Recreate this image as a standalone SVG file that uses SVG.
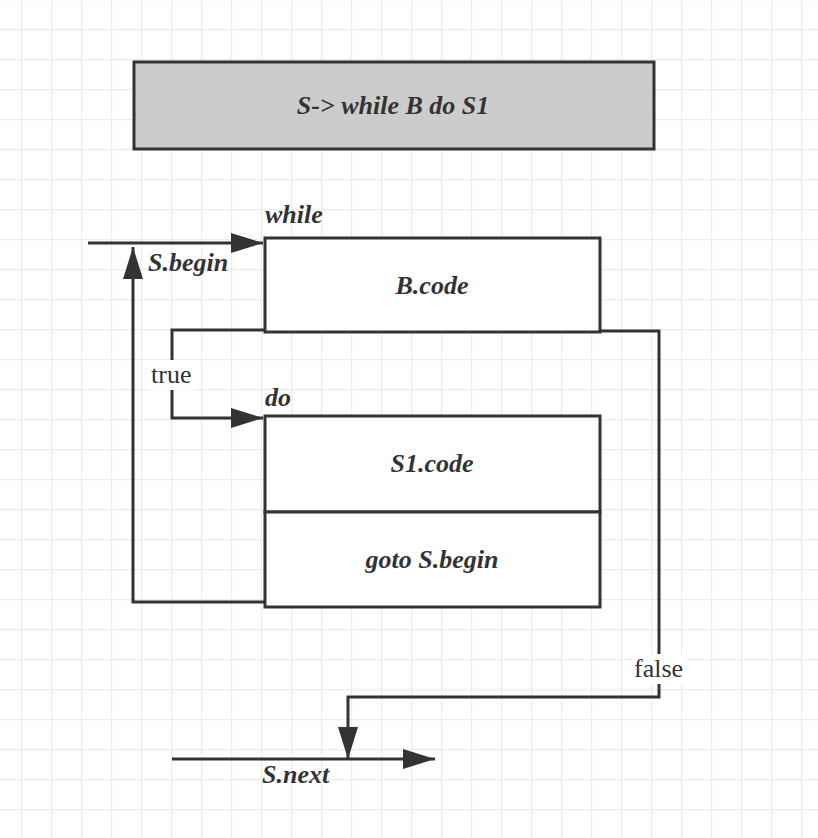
<svg xmlns="http://www.w3.org/2000/svg" width="818" height="838" viewBox="0 0 818 838">
<defs>
<pattern id="grid" x="21" y="29" width="30" height="30" patternUnits="userSpaceOnUse">
<path d="M0.5 0 V30 M0 0.5 H30" fill="none" stroke="#ececec" stroke-width="1.5"/>
</pattern>
<marker id="arr" viewBox="0 0 32 20" refX="32" refY="10" markerWidth="32" markerHeight="20" markerUnits="userSpaceOnUse" orient="auto">
<path d="M0 0 L32 10 L0 20 Z" fill="#333"/>
</marker>
</defs>
<style>
.box{fill:#fff;stroke:#333;stroke-width:3}
.title{fill:#ccc;stroke:#333;stroke-width:3}
.lbl{font-family:"Liberation Serif",serif;font-weight:bold;font-style:italic;font-size:26px;fill:#333}
.plain{font-family:"Liberation Serif",serif;font-size:26px;fill:#333}
.conn{fill:none;stroke:#333;stroke-width:3}
</style>
<rect x="0" y="0" width="818" height="838" fill="#fff"/>
<rect x="0" y="0" width="818" height="838" fill="url(#grid)"/>
<g id="title">
<rect class="title" x="134" y="62" width="520" height="87"/>
<text class="lbl" x="393" y="114" text-anchor="middle">S-&gt; while B do S1</text>
</g>
<g id="bcode">
<rect class="box" x="265" y="238" width="335" height="94"/>
<text class="lbl" x="432" y="294" text-anchor="middle">B.code</text>
</g>
<g id="s1code">
<rect class="box" x="265" y="416" width="335" height="96"/>
<text class="lbl" x="432" y="472" text-anchor="middle">S1.code</text>
</g>
<g id="goto">
<rect class="box" x="265" y="512" width="335" height="95"/>
<text class="lbl" x="432" y="568" text-anchor="middle">goto S.begin</text>
</g>
<g id="connectors">
<path class="conn" d="M88 243 H263" marker-end="url(#arr)"/>
<path class="conn" d="M265 602 H133 V247" marker-end="url(#arr)"/>
<path class="conn" d="M265 330 H172 V418 H263" marker-end="url(#arr)"/>
<path class="conn" d="M600 331 H659 V697 H348 V759" marker-end="url(#arr)"/>
<path class="conn" d="M172 759 H435" marker-end="url(#arr)"/>
</g>
<g id="labels">
<text class="lbl" x="265" y="223">while</text>
<text class="lbl" x="265" y="406">do</text>
<text class="lbl" x="148" y="271">S.begin</text>
<text class="lbl" x="262" y="783">S.next</text>
<rect x="148" y="360" width="48" height="30" fill="#fff"/>
<text class="plain" x="151" y="383">true</text>
<rect x="632" y="654" width="54" height="30" fill="#fff"/>
<text class="plain" x="634" y="677">false</text>
</g>
</svg>
